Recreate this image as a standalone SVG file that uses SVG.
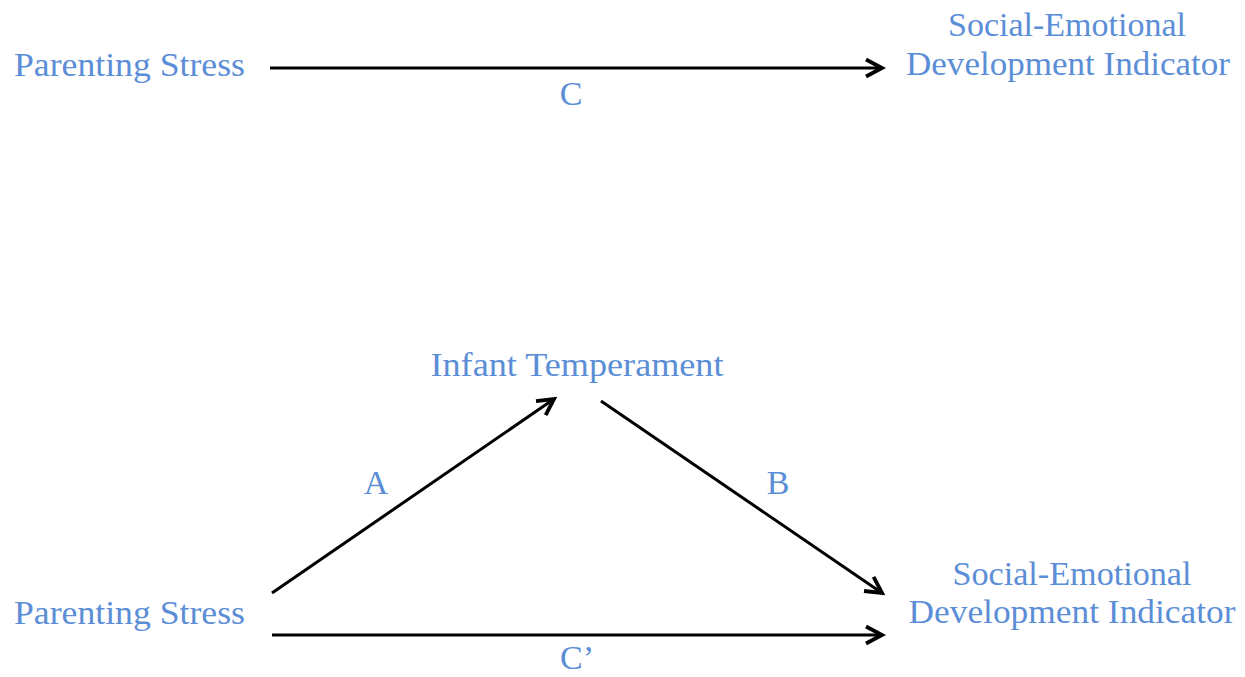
<svg xmlns="http://www.w3.org/2000/svg" width="1245" height="677" viewBox="0 0 1245 677">
<style>
.t{font-family:"Liberation Serif","DejaVu Serif",serif;font-size:34px;fill:#5B8ED6}
.m{text-anchor:middle}
.c{stroke:#000;stroke-width:3;fill:none}
</style>
<defs>
<marker id="ah" markerUnits="userSpaceOnUse" markerWidth="40" markerHeight="40" refX="0" refY="0" orient="auto" overflow="visible">
<path d="M-16,-8.5 L0,0 L-16,8.5" fill="none" stroke="#000" stroke-width="3.8" stroke-linejoin="miter"/>
</marker>
</defs>
<rect width="1245" height="677" fill="#fff"/>
<g id="connectors">
<line class="c" x1="270" y1="68" x2="882" y2="68" marker-end="url(#ah)"/>
<line class="c" x1="272" y1="593" x2="554" y2="399" marker-end="url(#ah)"/>
<line class="c" x1="601" y1="401" x2="882" y2="593" marker-end="url(#ah)"/>
<line class="c" x1="272" y1="635" x2="882" y2="635" marker-end="url(#ah)"/>
</g>
<g id="label-C"><text class="t m" x="571" y="105">C</text></g>
<g id="label-A"><text class="t m" x="376" y="494">A</text></g>
<g id="label-B"><text class="t m" x="778" y="494">B</text></g>
<g id="label-Cprime"><text class="t m" x="577" y="669">C’</text></g>
<g id="node-parenting-stress-top"><text class="t" x="14" y="76" textLength="231" lengthAdjust="spacingAndGlyphs">Parenting Stress</text></g>
<g id="node-sed-top">
<text class="t m" x="1067" y="36" textLength="238" lengthAdjust="spacingAndGlyphs">Social-Emotional</text>
<text class="t m" x="1068" y="75" textLength="324" lengthAdjust="spacingAndGlyphs">Development Indicator</text>
</g>
<g id="node-infant-temperament"><text class="t m" x="577" y="376" textLength="293" lengthAdjust="spacingAndGlyphs">Infant Temperament</text></g>
<g id="node-parenting-stress-bottom"><text class="t" x="14" y="624" textLength="231" lengthAdjust="spacingAndGlyphs">Parenting Stress</text></g>
<g id="node-sed-bottom">
<text class="t m" x="1072" y="585" textLength="239" lengthAdjust="spacingAndGlyphs">Social-Emotional</text>
<text class="t m" x="1072" y="623" textLength="327" lengthAdjust="spacingAndGlyphs">Development Indicator</text>
</g>
</svg>
